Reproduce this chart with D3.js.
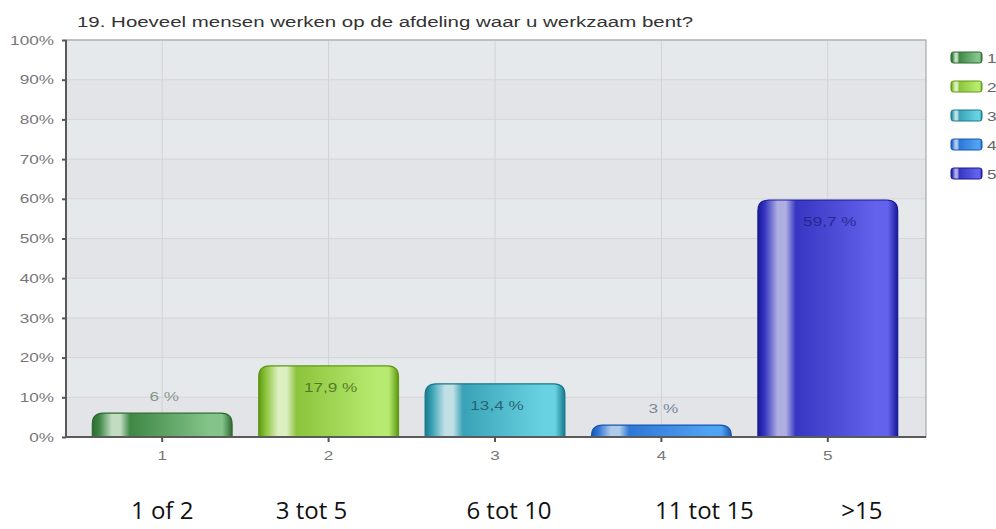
<!DOCTYPE html>
<html>
<head>
<meta charset="utf-8">
<script src="https://cdn.jsdelivr.net/npm/d3@7"></script>
<style>
  body { margin: 0; background: #fff; }
  svg { display: block; font-family: "Liberation Sans", Arial, sans-serif; }
</style>
</head>
<body>
<div id="chart"></div>
<script>
// chart data
var categories = ["1", "2", "3", "4", "5"];
var values = [6, 17.9, 13.4, 3, 59.7];
var valueLabels = ["6 %", "17,9 %", "13,4 %", "3 %", "59,7 %"];
var answerLabels = ["1 of 2", "3 tot 5", "6 tot 10", "11 tot 15", ">15"];
var yTicks = [0, 10, 20, 30, 40, 50, 60, 70, 80, 90, 100];
var title = "19. Hoeveel mensen werken op de afdeling waar u werkzaam bent?";

// look of each bar: dark edge, body, light side, highlight, label colour
var palette = [
  {dark: "#2d6a31", mid: "#3f8745", light: "#84c48a", hi: "#c2dcc2", text: "#7d8a7d"},
  {dark: "#5e9812", mid: "#8cc43c", light: "#b6ea70", hi: "#dcefc0", text: "#4a6e1e"},
  {dark: "#17798c", mid: "#3aa2b6", light: "#68d2e2", hi: "#c0e0e6", text: "#1f5a6a"},
  {dark: "#1a55b0", mid: "#2f77d6", light: "#50a2f2", hi: "#b0cbea", text: "#6a7a94"},
  {dark: "#18189a", mid: "#3636c2", light: "#6262ec", hi: "#aeaee2", text: "#242488"}
];
// horizontal nudge of the typed answer labels under the chart
var answerOffset = [0, -17, 14, 43, 34];

// the original picture is stretched sideways, so its texts are too
var stretch = 1.32;

var svgWidth = 996, svgHeight = 529;
var margin = {top: 40, right: 70, bottom: 92, left: 66};
var width = svgWidth - margin.left - margin.right;   // 860
var height = svgHeight - margin.top - margin.bottom; // 397

var svg = d3.select("#chart").append("svg")
  .attr("width", svgWidth)
  .attr("height", svgHeight);

var defs = svg.append("defs");
palette.forEach(function(p, i) {
  var g = defs.append("linearGradient").attr("id", "grad" + i)
    .attr("x1", 0).attr("x2", 1).attr("y1", 0).attr("y2", 0);
  [[0, p.dark], [0.05, p.mid], [0.14, p.hi], [0.2, p.hi], [0.27, p.mid],
   [0.84, p.light], [0.93, p.light], [1, p.dark]].forEach(function(s) {
    g.append("stop").attr("offset", s[0]).attr("stop-color", s[1]);
  });
});

var chartGroup = svg.append("g")
  .attr("transform", `translate(${margin.left}, ${margin.top})`);

var x = d3.scaleBand()
  .domain(categories)
  .range([13, width - 15])
  .paddingInner(0.16)
  .paddingOuter(0.08);

var y = d3.scaleLinear()
  .domain([0, 100])
  .range([height, 0]);

// plot background with soft alternating bands
chartGroup.append("rect")
  .attr("width", width).attr("height", height)
  .attr("fill", "#e4e7ea");
chartGroup.selectAll(".band")
  .data(yTicks.slice(0, -1))
  .enter().append("rect")
  .attr("x", 0).attr("width", width)
  .attr("y", d => y(d + 10)).attr("height", d => y(d) - y(d + 10))
  .attr("fill", (d, i) => i % 2 ? "#e6e9ec" : "#e3e4e7");

// grid
chartGroup.selectAll(".hgrid")
  .data(yTicks)
  .enter().append("line")
  .attr("x1", 0).attr("x2", width)
  .attr("y1", d => y(d)).attr("y2", d => y(d))
  .attr("stroke", "#d6d6d8").attr("stroke-width", 1);
chartGroup.selectAll(".vgrid")
  .data(categories)
  .enter().append("line")
  .attr("x1", d => x(d) + x.bandwidth() / 2).attr("x2", d => x(d) + x.bandwidth() / 2)
  .attr("y1", 0).attr("y2", height)
  .attr("stroke", "#d2d2d4").attr("stroke-width", 1);

// frame (top / right light)
chartGroup.append("rect")
  .attr("width", width).attr("height", height)
  .attr("fill", "none").attr("stroke", "#a8a8a8").attr("stroke-width", 1.2);

// bars with rounded tops
function barPath(d, i) {
  var x0 = x(categories[i]), x1 = x0 + x.bandwidth();
  var yb = y(0), yt = y(d);
  var r = Math.min(11, yb - yt);
  return `M${x0},${yb} L${x0},${yt + r} Q${x0},${yt} ${x0 + r},${yt} ` +
    `L${x1 - r},${yt} Q${x1},${yt} ${x1},${yt + r} L${x1},${yb} Z`;
}

chartGroup.selectAll(".bar")
  .data(values)
  .enter().append("path")
  .attr("d", barPath)
  .attr("fill", (d, i) => `url(#grad${i})`)
  .attr("stroke", (d, i) => palette[i].dark)
  .attr("stroke-width", 1.2);

// value labels: inside when the bar is tall enough, else above
var inside = d => (y(0) - y(d) > 30);
chartGroup.selectAll(".val")
  .data(values)
  .enter().append("text")
  .attr("transform", (d, i) => {
    var cx = x(categories[i]) + x.bandwidth() / 2 + 2;
    var cy = inside(d) ? y(d) + 26 : y(d) - 12;
    return `translate(${cx}, ${cy}) scale(${stretch}, 1)`;
  })
  .attr("text-anchor", "middle")
  .style("font-size", "13px")
  .attr("fill", (d, i) => palette[i].text)
  .attr("fill-opacity", 0.9)
  .text((d, i) => valueLabels[i]);

// axes
var leftAxis = d3.axisLeft(y).tickValues(yTicks).tickSize(4).tickFormat(d => d + "%");
var bottomAxis = d3.axisBottom(x).tickSize(5).tickPadding(9);

var gy = chartGroup.append("g").call(leftAxis);
var gx = chartGroup.append("g").attr("transform", `translate(0, ${height})`).call(bottomAxis);

gy.select(".domain").attr("stroke", "#5a5a5a").attr("stroke-width", 2).attr("d", `M0,0V${height}`);
gx.select(".domain").attr("stroke", "#5a5a5a").attr("stroke-width", 2).attr("d", `M0,0H${width}`);
gy.selectAll(".tick line").attr("stroke", "#555").attr("stroke-width", 2);
gx.selectAll(".tick line").attr("stroke", "#555").attr("stroke-width", 2);
gy.selectAll("text")
  .attr("fill", "#777").style("font-size", "13px")
  .attr("x", 0).attr("transform", `translate(-12, 0) scale(${stretch}, 1)`);
gx.selectAll("text")
  .attr("fill", "#777").style("font-size", "13px")
  .attr("transform", `scale(${stretch}, 1)`);

// title
svg.append("text")
  .attr("transform", `translate(77, 27) scale(${stretch}, 1)`)
  .style("font-size", "15.5px")
  .attr("fill", "#333")
  .text(title);

// legend
var legend = svg.append("g").attr("transform", "translate(951, 52)");
var rows = legend.selectAll("g")
  .data(categories)
  .enter().append("g")
  .attr("transform", (d, i) => `translate(0, ${i * 29})`);
rows.append("rect")
  .attr("width", 31).attr("height", 11).attr("rx", 2.5)
  .attr("fill", (d, i) => `url(#grad${i})`)
  .attr("stroke", (d, i) => palette[i].dark);
rows.append("text")
  .attr("transform", `translate(36, 10.5) scale(${stretch}, 1)`)
  .style("font-size", "13px")
  .attr("fill", "#666")
  .text(d => d);

// answer descriptions under the chart
svg.selectAll(".answer")
  .data(answerLabels)
  .enter().append("text")
  .attr("x", (d, i) => margin.left + x(categories[i]) + x.bandwidth() / 2 + answerOffset[i])
  .attr("y", 519)
  .attr("text-anchor", "middle")
  .style("font-family", "'Open Sans', 'Noto Sans', sans-serif")
  .style("font-size", "24px")
  .attr("fill", "#111")
  .text(d => d);
</script>
</body>
</html>
